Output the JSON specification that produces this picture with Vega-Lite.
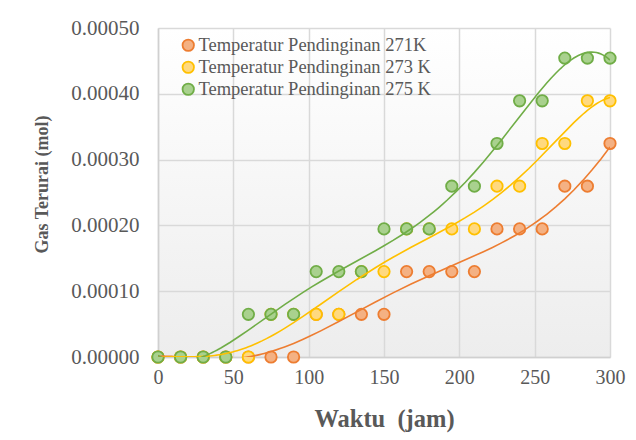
{
  "$schema": "https://vega.github.io/schema/vega-lite/v6.json",
  "width": 452,
  "height": 329,
  "autosize": {"type": "none"},
  "padding": {"left": 158, "top": 28, "right": 26, "bottom": 83},
  "background": "white",
  "config": {
    "font": "Liberation Serif",
    "view": {
      "stroke": null,
      "fill": {
        "gradient": "linear",
        "x1": 0, "y1": 0, "x2": 0, "y2": 1,
        "stops": [
          {"offset": 0, "color": "#ffffff"},
          {"offset": 1, "color": "#ededed"}
        ]
      }
    },
    "axis": {
      "labelFont": "Liberation Serif",
      "labelFontSize": 20,
      "labelColor": "#595959",
      "labelFlush": false,
      "titleFont": "Liberation Serif",
      "titleColor": "#595959",
      "titleFontWeight": "bold",
      "ticks": false,
      "domainColor": "#d0d0d0",
      "domainWidth": 1.5,
      "gridColor": "#d9d9d9",
      "gridWidth": 1.5
    },
    "legend": {
      "labelFont": "Liberation Serif",
      "labelFontSize": 18.5,
      "labelColor": "#595959",
      "labelLimit": 0
    }
  },
  "data": {
    "values": [
      {"t": 0, "gas": 0, "series": "Temperatur Pendinginan 271K"},
      {"t": 15, "gas": 0, "series": "Temperatur Pendinginan 271K"},
      {"t": 30, "gas": 0, "series": "Temperatur Pendinginan 271K"},
      {"t": 45, "gas": 0, "series": "Temperatur Pendinginan 271K"},
      {"t": 60, "gas": 0, "series": "Temperatur Pendinginan 271K"},
      {"t": 75, "gas": 0, "series": "Temperatur Pendinginan 271K"},
      {"t": 90, "gas": 0, "series": "Temperatur Pendinginan 271K"},
      {"t": 105, "gas": 0.0000649, "series": "Temperatur Pendinginan 271K"},
      {"t": 120, "gas": 0.0000649, "series": "Temperatur Pendinginan 271K"},
      {"t": 135, "gas": 0.0000649, "series": "Temperatur Pendinginan 271K"},
      {"t": 150, "gas": 0.0000649, "series": "Temperatur Pendinginan 271K"},
      {"t": 165, "gas": 0.0001298, "series": "Temperatur Pendinginan 271K"},
      {"t": 180, "gas": 0.0001298, "series": "Temperatur Pendinginan 271K"},
      {"t": 195, "gas": 0.0001298, "series": "Temperatur Pendinginan 271K"},
      {"t": 210, "gas": 0.0001298, "series": "Temperatur Pendinginan 271K"},
      {"t": 225, "gas": 0.0001947, "series": "Temperatur Pendinginan 271K"},
      {"t": 240, "gas": 0.0001947, "series": "Temperatur Pendinginan 271K"},
      {"t": 255, "gas": 0.0001947, "series": "Temperatur Pendinginan 271K"},
      {"t": 270, "gas": 0.0002596, "series": "Temperatur Pendinginan 271K"},
      {"t": 285, "gas": 0.0002596, "series": "Temperatur Pendinginan 271K"},
      {"t": 300, "gas": 0.0003245, "series": "Temperatur Pendinginan 271K"},

      {"t": 0, "gas": 0, "series": "Temperatur Pendinginan 273 K"},
      {"t": 15, "gas": 0, "series": "Temperatur Pendinginan 273 K"},
      {"t": 30, "gas": 0, "series": "Temperatur Pendinginan 273 K"},
      {"t": 45, "gas": 0, "series": "Temperatur Pendinginan 273 K"},
      {"t": 60, "gas": 0, "series": "Temperatur Pendinginan 273 K"},
      {"t": 75, "gas": 0.0000649, "series": "Temperatur Pendinginan 273 K"},
      {"t": 90, "gas": 0.0000649, "series": "Temperatur Pendinginan 273 K"},
      {"t": 105, "gas": 0.0000649, "series": "Temperatur Pendinginan 273 K"},
      {"t": 120, "gas": 0.0000649, "series": "Temperatur Pendinginan 273 K"},
      {"t": 135, "gas": 0.0001298, "series": "Temperatur Pendinginan 273 K"},
      {"t": 150, "gas": 0.0001298, "series": "Temperatur Pendinginan 273 K"},
      {"t": 165, "gas": 0.0001947, "series": "Temperatur Pendinginan 273 K"},
      {"t": 180, "gas": 0.0001947, "series": "Temperatur Pendinginan 273 K"},
      {"t": 195, "gas": 0.0001947, "series": "Temperatur Pendinginan 273 K"},
      {"t": 210, "gas": 0.0001947, "series": "Temperatur Pendinginan 273 K"},
      {"t": 225, "gas": 0.0002596, "series": "Temperatur Pendinginan 273 K"},
      {"t": 240, "gas": 0.0002596, "series": "Temperatur Pendinginan 273 K"},
      {"t": 255, "gas": 0.0003245, "series": "Temperatur Pendinginan 273 K"},
      {"t": 270, "gas": 0.0003245, "series": "Temperatur Pendinginan 273 K"},
      {"t": 285, "gas": 0.0003894, "series": "Temperatur Pendinginan 273 K"},
      {"t": 300, "gas": 0.0003894, "series": "Temperatur Pendinginan 273 K"},

      {"t": 0, "gas": 0, "series": "Temperatur Pendinginan 275 K"},
      {"t": 15, "gas": 0, "series": "Temperatur Pendinginan 275 K"},
      {"t": 30, "gas": 0, "series": "Temperatur Pendinginan 275 K"},
      {"t": 45, "gas": 0, "series": "Temperatur Pendinginan 275 K"},
      {"t": 60, "gas": 0.0000649, "series": "Temperatur Pendinginan 275 K"},
      {"t": 75, "gas": 0.0000649, "series": "Temperatur Pendinginan 275 K"},
      {"t": 90, "gas": 0.0000649, "series": "Temperatur Pendinginan 275 K"},
      {"t": 105, "gas": 0.0001298, "series": "Temperatur Pendinginan 275 K"},
      {"t": 120, "gas": 0.0001298, "series": "Temperatur Pendinginan 275 K"},
      {"t": 135, "gas": 0.0001298, "series": "Temperatur Pendinginan 275 K"},
      {"t": 150, "gas": 0.0001947, "series": "Temperatur Pendinginan 275 K"},
      {"t": 165, "gas": 0.0001947, "series": "Temperatur Pendinginan 275 K"},
      {"t": 180, "gas": 0.0001947, "series": "Temperatur Pendinginan 275 K"},
      {"t": 195, "gas": 0.0002596, "series": "Temperatur Pendinginan 275 K"},
      {"t": 210, "gas": 0.0002596, "series": "Temperatur Pendinginan 275 K"},
      {"t": 225, "gas": 0.0003245, "series": "Temperatur Pendinginan 275 K"},
      {"t": 240, "gas": 0.0003894, "series": "Temperatur Pendinginan 275 K"},
      {"t": 255, "gas": 0.0003894, "series": "Temperatur Pendinginan 275 K"},
      {"t": 270, "gas": 0.0004543, "series": "Temperatur Pendinginan 275 K"},
      {"t": 285, "gas": 0.0004543, "series": "Temperatur Pendinginan 275 K"},
      {"t": 300, "gas": 0.0004543, "series": "Temperatur Pendinginan 275 K"}
    ]
  },
  "encoding": {
    "x": {
      "field": "t",
      "type": "quantitative",
      "scale": {"domain": [0, 300], "nice": false},
      "axis": {
        "values": [0, 50, 100, 150, 200, 250, 300],
        "title": "Waktu\u00a0 (jam)",
        "titleFontSize": 24.5,
        "labelPadding": 10,
        "titlePadding": 20
      }
    },
    "y": {
      "field": "gas",
      "type": "quantitative",
      "scale": {"domain": [0, 0.0005], "nice": false},
      "axis": {
        "values": [0, 0.0001, 0.0002, 0.0003, 0.0004, 0.0005],
        "format": ".5f",
        "labelFontSize": 21,
        "title": "Gas Terurai (mol)",
        "titleFontSize": 18,
        "labelPadding": 19,
        "titleX": -116,
        "titleY": 156,
        "titleBaseline": "middle"
      }
    }
  },
  "layer": [
    {
      "mark": {"type": "point", "shape": "circle", "filled": false, "size": 130, "strokeWidth": 1.8, "opacity": 1, "fillOpacity": 1},
      "encoding": {
        "fill": {
          "field": "series",
          "type": "nominal",
          "scale": {"range": ["#f4b183", "#ffd97f", "#a9d18e"]},
          "legend": {
            "title": null,
            "orient": "none",
            "legendX": 21,
            "legendY": 8,
            "symbolSize": 130,
            "symbolStrokeWidth": 1.8,
            "rowPadding": 2,
            "labelOffset": 1
          }
        },
        "stroke": {
          "field": "series",
          "type": "nominal",
          "scale": {"range": ["#ed7d31", "#ffc000", "#70ad47"]},
          "legend": {
            "title": null,
            "orient": "none",
            "legendX": 21,
            "legendY": 8,
            "symbolSize": 130,
            "symbolStrokeWidth": 1.8,
            "rowPadding": 2,
            "labelOffset": 1
          }
        }
      }
    },
    {
      "transform": [
        {"regression": "gas", "on": "t", "groupby": ["series"], "method": "poly", "order": 6, "extent": [0, 300]}
      ],
      "mark": {"type": "line", "clip": true, "strokeWidth": 1.6},
      "encoding": {
        "color": {
          "field": "series",
          "type": "nominal",
          "scale": {"range": ["#ed7d31", "#ffc000", "#70ad47"]},
          "legend": null
        }
      }
    }
  ]
}
